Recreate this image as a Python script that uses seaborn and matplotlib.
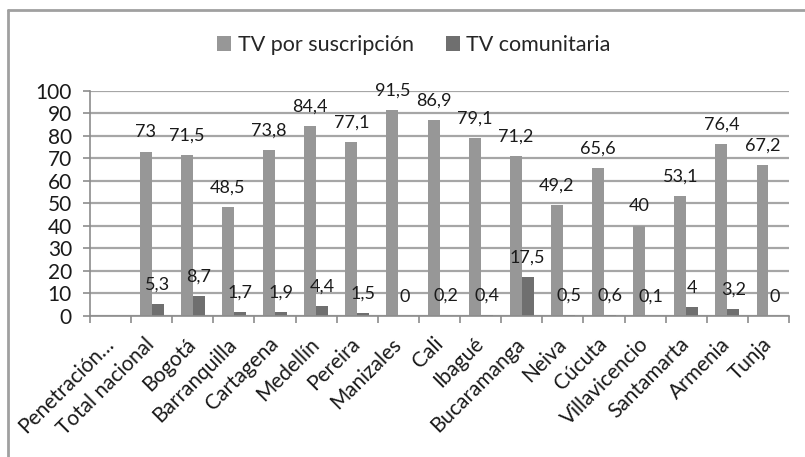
import matplotlib
matplotlib.use("Agg")
import matplotlib.pyplot as plt
import seaborn as sns
import pandas as pd
import numpy as np
from matplotlib.patches import Patch
from matplotlib.lines import Line2D

categories = ["Penetración…", "Total nacional", "Bogotá", "Barranquilla", "Cartagena",
              "Medellín", "Pereira", "Manizales", "Cali", "Ibagué", "Bucaramanga",
              "Neiva", "Cúcuta", "Villavicencio", "Santamarta", "Armenia", "Tunja"]
suscripcion = [np.nan, 73, 71.5, 48.5, 73.8, 84.4, 77.1, 91.5, 86.9, 79.1, 71.2,
               49.2, 65.6, 40, 53.1, 76.4, 67.2]
comunitaria = [np.nan, 5.3, 8.7, 1.7, 1.9, 4.4, 1.5, 0, 0.2, 0.4, 17.5,
               0.5, 0.6, 0.1, 4, 3.2, 0]
series_names = ["TV por suscripción", "TV comunitaria"]
colors = ["#979797", "#6f6f6f"]
yticks = list(range(0, 101, 10))

sns.set_style("white")
plt.rcParams['font.family'] = ['Lato', 'DejaVu Sans']
TXT = "#1a1a1a"

df = pd.DataFrame({
    "cat": categories * 2,
    "serie": [series_names[0]] * len(categories) + [series_names[1]] * len(categories),
    "val": suscripcion + comunitaria,
})

fig = plt.figure(figsize=(8.05, 4.57), dpi=100)
ax = fig.add_axes([90/805, 1-316/457, (789-90)/805, (316-90.7)/457])

sns.barplot(data=df, x="cat", y="val", hue="serie", order=categories,
            hue_order=series_names, palette=colors, width=0.58, saturation=1,
            ax=ax, legend=False, errorbar=None)

for c in ax.patches:
    c.set_edgecolor("none")

ax.set_ylim(0, 100)
ax.set_xlim(-0.5, len(categories) - 0.5)
ax.set_yticks(yticks)
ax.set_yticklabels([str(t) for t in yticks], fontsize=15, color=TXT)
ax.yaxis.grid(True, color="#a6a6a6", linewidth=1.6)
ax.set_axisbelow(True)
for s in ["top", "right"]:
    ax.spines[s].set_visible(False)
for s in ["left", "bottom"]:
    ax.spines[s].set_color("#8c8c8c")
    ax.spines[s].set_linewidth(1.2)
ax.tick_params(axis="y", length=5, width=1.2, color="#8c8c8c", left=True, pad=8)
ax.set_xticks(range(len(categories)))
ax.set_xticklabels(categories, rotation=45, ha="right", va="center", rotation_mode="anchor",
                   fontsize=15, color=TXT)
ax.tick_params(axis="x", which="major", length=0, pad=18)
ax.set_xticks(np.arange(-0.5, len(categories), 1), minor=True)
ax.tick_params(axis="x", which="minor", length=5, width=1.2, color="#8c8c8c", bottom=True)
ax.set_xlabel("")
ax.set_ylabel("")

def fmt(v):
    if float(v).is_integer():
        return str(int(v))
    return f"{v:.1f}".replace(".", ",")

for cont, vals in zip(ax.containers, [suscripcion, comunitaria]):
    valid = [v for v in vals if not np.isnan(v)]
    for p, v in zip(cont.patches, valid):
        x = p.get_x() + p.get_width() / 2
        ax.annotate(fmt(v), (x, p.get_height()), xytext=(0, 14), textcoords="offset points",
                    ha="center", va="center", fontsize=13, color=TXT)

handles = [Patch(facecolor=colors[0], edgecolor="none"), Patch(facecolor=colors[1], edgecolor="none")]
fig.legend(handles, series_names, loc="center", bbox_to_anchor=(414/805, 1-45/457),
           ncol=2, frameon=False, fontsize=15.5, handlelength=0.65, handleheight=0.65,
           handletextpad=0.3, columnspacing=1.5)

fig.add_artist(Line2D([8/805, 1], [1-10/457, 1-10/457], color="#a0a0a0", linewidth=2, transform=fig.transFigure))
fig.add_artist(Line2D([8/805, 8/805], [0, 1-10/457], color="#a0a0a0", linewidth=2, transform=fig.transFigure))

fig.savefig("out.png", dpi=100)
